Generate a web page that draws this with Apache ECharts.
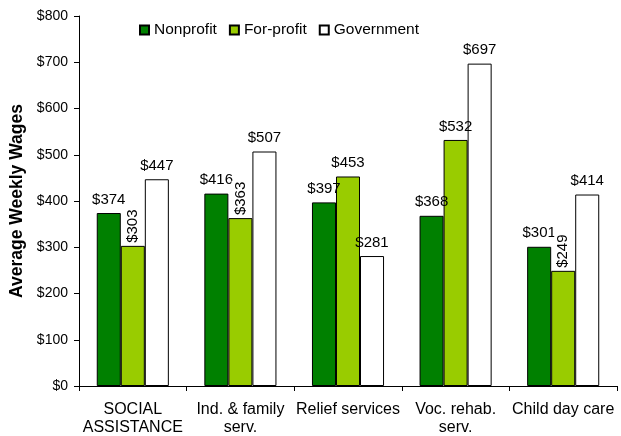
<!DOCTYPE html>
<html><head><meta charset="utf-8">
<script src="https://cdn.jsdelivr.net/npm/echarts@6/dist/echarts.min.js"></script>
<style>html,body{margin:0;padding:0;background:#fff}#c{width:621px;height:436px}</style>
</head><body><div id="c"></div>
<script>
var categories = ['SOCIAL\nASSISTANCE', 'Ind. & family\nserv.', 'Relief services', 'Voc. rehab.\nserv.', 'Child day care'];
var nonprofit = [374, 416, 397, 368, 301];
var forProfit = [303, 363, 453, 532, 249];
var government = [447, 507, 281, 697, 414];
var yTicks = [0, 100, 200, 300, 400, 500, 600, 700, 800];
var rotatedForProfit = [0, 1, 4];

var font = 'Liberation Sans, Arial, sans-serif';
var chart = echarts.init(document.getElementById('c'), null, {renderer: 'canvas'});
var baseLabel = {show: true, position: 'top', distance: 6, color: '#000', fontFamily: font, fontSize: 15, formatter: function(p){return '$' + p.value;}};
chart.setOption({
  animation: false,
  legend: {
    top: 17, left: 134, itemWidth: 9, itemHeight: 9, itemGap: 12,
    icon: 'rect',
    textStyle: {fontFamily: font, fontSize: 15.5, color: '#000'},
    data: ['Nonprofit', 'For-profit', 'Government']
  },
  grid: {left: 79, right: 4, top: 16, bottom: 50, containLabel: false, outerBoundsMode: 'none'},
  xAxis: {
    type: 'category', data: categories,
    axisLine: {lineStyle: {color: '#000'}},
    axisTick: {show: true, length: 5, inside: false, lineStyle: {color: '#000'}},
    axisLabel: {interval: 0, fontFamily: font, fontSize: 16, color: '#000', margin: 15, lineHeight: 18}
  },
  yAxis: {
    type: 'value', min: yTicks[0], max: yTicks[yTicks.length-1], interval: 100,
    name: 'Average Weekly Wages', nameLocation: 'middle', nameGap: 47,
    nameTextStyle: {fontFamily: font, fontSize: 17.5, fontWeight: 'bold', color: '#000'},
    axisLine: {show: true, lineStyle: {color: '#000'}},
    axisTick: {show: true, length: 5, lineStyle: {color: '#000'}},
    splitLine: {show: false},
    axisLabel: {fontFamily: font, fontSize: 14, color: '#000', margin: 11, formatter: function(v){return '$' + v;}}
  },
  series: [
    {name: 'Nonprofit', type: 'bar', data: nonprofit, barGap: '0%', barCategoryGap: '33%',
     itemStyle: {color: '#008000', borderColor: '#000', borderWidth: 1}, label: baseLabel},
    {name: 'For-profit', type: 'bar', barGap: '0%', barCategoryGap: '33%',
     data: forProfit.map(function(v, i){
       return rotatedForProfit.indexOf(i) >= 0 ? {value: v, label: {rotate: 90, align: 'left', verticalAlign: 'middle', distance: 2, backgroundColor: '#fff', padding: [2,1,1,1]}} : v;
     }),
     itemStyle: {color: '#99CC00', borderColor: '#000', borderWidth: 1}, label: baseLabel},
    {name: 'Government', type: 'bar', data: government, barGap: '0%', barCategoryGap: '33%',
     itemStyle: {color: '#ffffff', borderColor: '#000', borderWidth: 1}, label: baseLabel}
  ]
});
</script></body></html>
